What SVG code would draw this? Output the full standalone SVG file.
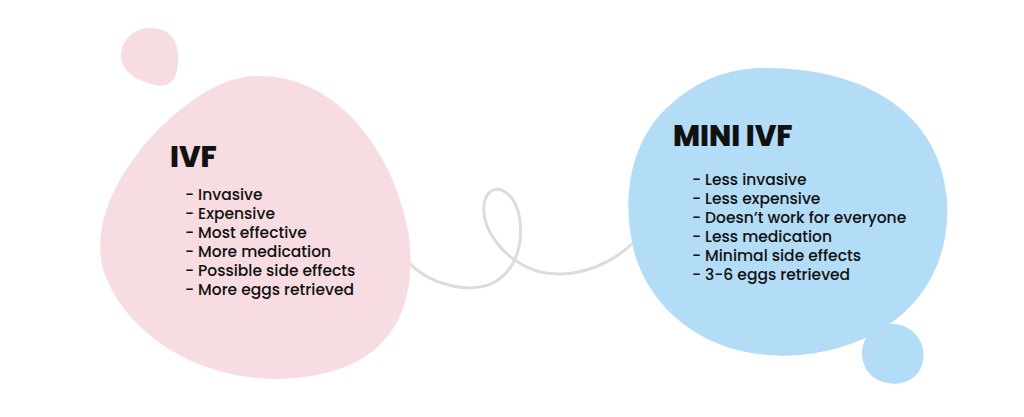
<svg xmlns="http://www.w3.org/2000/svg" width="1024" height="417" viewBox="0 0 1024 417">
<style>
.t{font-family:"Poppins","Inter","Liberation Sans",sans-serif;fill:#111}
.h{font-size:29px;font-weight:800}
.l{font-size:15.5px;font-weight:500}
</style>
<rect width="1024" height="417" fill="#fff"/>
<g id="connectors">
<path d="M408,262 C430,285 470,295 495,282 C518,268 524,240 519,215 C514,190 492,180 485,200 C478,228 505,262 540,272 C580,280 615,262 638,238" fill="none" stroke="#dcdcdc" stroke-width="3"/>
</g>
<g id="ivf-dot"><path d="M150,28 C170,28 180,40 178,65 C176,85 165,90 145,82 C125,75 118,62 122,48 C127,34 138,28 150,28 Z" fill="#f7dde1"/></g>
<g id="ivf">
<path d="M260,76 C330,76 390,140 408,230 C420,310 390,370 295,378 C210,386 130,340 105,275 C85,220 130,150 180,110 C205,90 230,76 260,76 Z" fill="#f7dde1"/>
<text class="t h" x="170" y="167">IVF</text>
<text class="t l" x="185" y="200">- Invasive</text>
<text class="t l" x="185" y="219">- Expensive</text>
<text class="t l" x="185" y="238">- Most effective</text>
<text class="t l" x="185" y="257">- More medication</text>
<text class="t l" x="185" y="276">- Possible side effects</text>
<text class="t l" x="185" y="295">- More eggs retrieved</text>
</g>
<g id="mini">
<path d="M760,68 C860,66 940,110 947,200 C952,280 900,345 800,355 C720,362 655,320 635,255 C620,200 630,140 670,105 C695,82 725,69 760,68 Z" fill="#b3dcf7"/>
<text class="t h" x="673" y="146">MINI IVF</text>
<text class="t l" x="692" y="185">- Less invasive</text>
<text class="t l" x="692" y="204">- Less expensive</text>
<text class="t l" x="692" y="223">- Doesn’t work for everyone</text>
<text class="t l" x="692" y="242">- Less medication</text>
<text class="t l" x="692" y="261">- Minimal side effects</text>
<text class="t l" x="692" y="280">- 3-6 eggs retrieved</text>
</g>
<g id="mini-dot"><path d="M895,324 C915,326 928,345 922,365 C916,383 895,388 878,380 C862,372 858,352 866,338 C873,327 883,323 895,324 Z" fill="#b3dcf7"/></g>
</svg>
